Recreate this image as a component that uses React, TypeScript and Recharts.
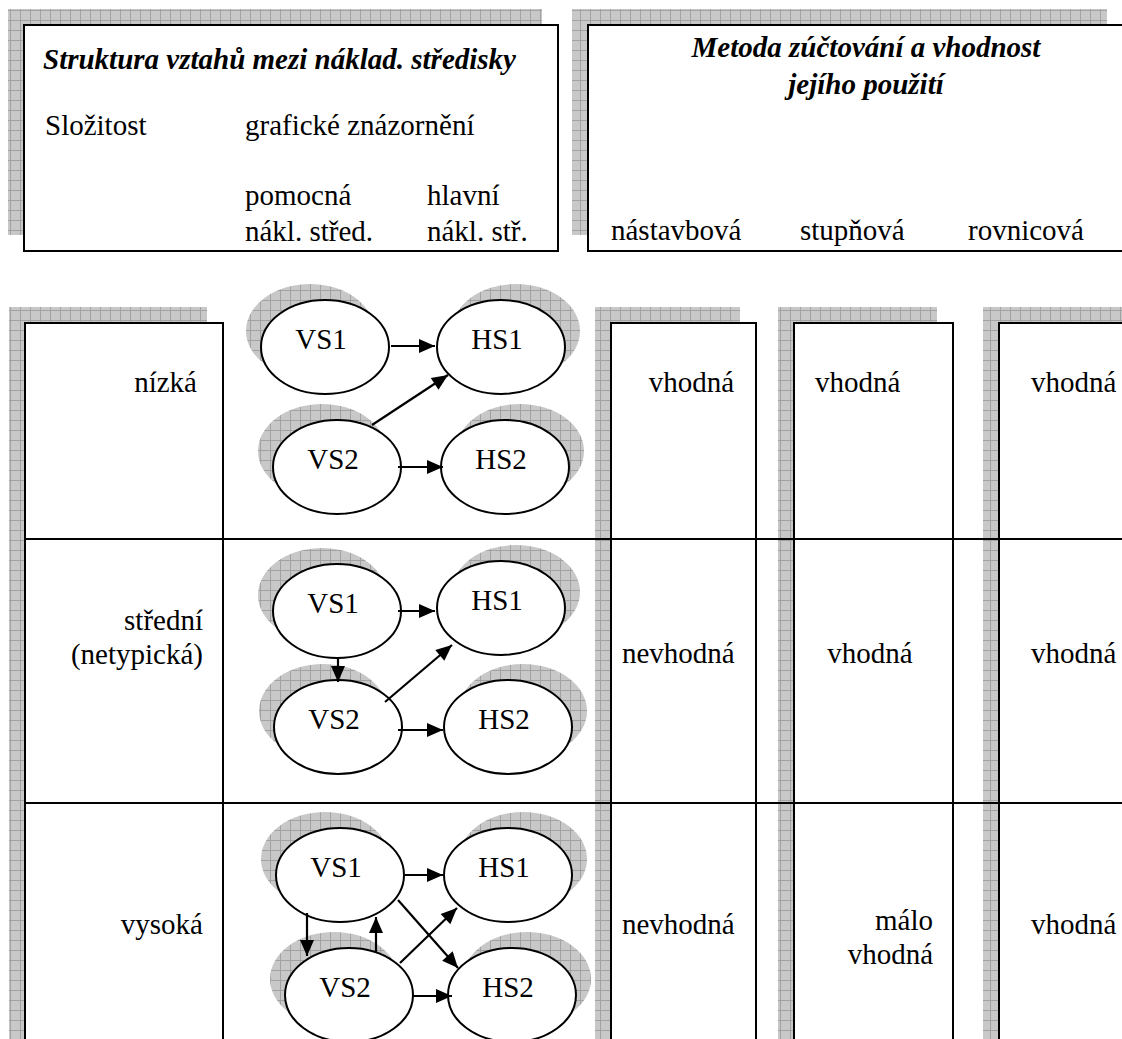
import React from "react"
import { ComposedChart, XAxis, YAxis, Scatter, ReferenceArea } from "recharts"

const W = 1122
const H = 1039
const FONT = '"Liberation Serif", "Times New Roman", serif'

// rámečky hlavičky (souřadnice diagramu)
const headerBoxes = [
  { id: "struktura", x1: 24, x2: 558, y1: 25, y2: 251 },
  { id: "metoda", x1: 588, x2: 1123, y1: 25, y2: 251 },
]

// sloupce tabulky – pokračují pod spodní okraj
const columnBoxes = [
  { id: "slozitost", x1: 25, x2: 223 },
  { id: "nastavbova", x1: 611, x2: 756 },
  { id: "stupnova", x1: 794, x2: 953 },
  { id: "rovnicova", x1: 999, x2: 1150 },
]
const tableTop = 323
const tableBottom = 1060
const tableLeft = 25
const tableRight = 1150
const rowDividers = [539, 803]

// nadpisy (tučná kurzíva)
const titles = [
  { text: "Struktura vztahů mezi náklad. středisky", x: 43, y: 69, anchor: "start" },
  { text: "Metoda zúčtování a vhodnost", x: 866, y: 57, anchor: "middle" },
  { text: "jejího použití", x: 866, y: 94, anchor: "middle" },
]

// popisky hlavičky
const headerLabels = [
  { text: "Složitost", x: 45, y: 135, anchor: "start" },
  { text: "grafické znázornění", x: 245, y: 135, anchor: "start" },
  { text: "pomocná", x: 245, y: 205, anchor: "start" },
  { text: "nákl. střed.", x: 245, y: 241, anchor: "start" },
  { text: "hlavní", x: 427, y: 205, anchor: "start" },
  { text: "nákl. stř.", x: 427, y: 241, anchor: "start" },
  { text: "nástavbová", x: 611, y: 240, anchor: "start" },
  { text: "stupňová", x: 800, y: 240, anchor: "start" },
  { text: "rovnicová", x: 968, y: 240, anchor: "start" },
]

// složitost (řádky)
const complexityLabels = [
  { text: "nízká", x: 197, y: 392, anchor: "end" },
  { text: "střední", x: 203, y: 630, anchor: "end" },
  { text: "(netypická)", x: 203, y: 664, anchor: "end" },
  { text: "vysoká", x: 203, y: 934, anchor: "end" },
]

// vhodnost metod
const suitabilityLabels = [
  { text: "vhodná", x: 734, y: 392, anchor: "end" },
  { text: "nevhodná", x: 622, y: 663, anchor: "start" },
  { text: "nevhodná", x: 622, y: 934, anchor: "start" },
  { text: "vhodná", x: 815, y: 392, anchor: "start" },
  { text: "vhodná", x: 870, y: 663, anchor: "middle" },
  { text: "málo", x: 933, y: 930, anchor: "end" },
  { text: "vhodná", x: 933, y: 964, anchor: "end" },
  { text: "vhodná", x: 1031, y: 392, anchor: "start" },
  { text: "vhodná", x: 1031, y: 663, anchor: "start" },
  { text: "vhodná", x: 1031, y: 934, anchor: "start" },
]

// střediska v grafech
const nodes = [
  { row: "nízká", label: "VS1", x: 325, y: 347 },
  { row: "nízká", label: "HS1", x: 501, y: 347 },
  { row: "nízká", label: "VS2", x: 337, y: 467 },
  { row: "nízká", label: "HS2", x: 505, y: 467 },
  { row: "střední", label: "VS1", x: 337, y: 611 },
  { row: "střední", label: "HS1", x: 501, y: 608 },
  { row: "střední", label: "VS2", x: 338, y: 727 },
  { row: "střední", label: "HS2", x: 508, y: 727 },
  { row: "vysoká", label: "VS1", x: 340, y: 875 },
  { row: "vysoká", label: "HS1", x: 508, y: 875 },
  { row: "vysoká", label: "VS2", x: 349, y: 995 },
  { row: "vysoká", label: "HS2", x: 512, y: 995 },
]

// vztahy (šipky)
const arrows = [
  { row: "nízká", x1: 391, y1: 346, x2: 435, y2: 346 },
  { row: "nízká", x1: 372, y1: 425, x2: 448, y2: 375 },
  { row: "nízká", x1: 398, y1: 467, x2: 443, y2: 467 },
  { row: "střední", x1: 398, y1: 611, x2: 435, y2: 611 },
  { row: "střední", x1: 338, y1: 658, x2: 338, y2: 682 },
  { row: "střední", x1: 385, y1: 702, x2: 452, y2: 645 },
  { row: "střední", x1: 398, y1: 730, x2: 443, y2: 730 },
  { row: "vysoká", x1: 405, y1: 875, x2: 443, y2: 875 },
  { row: "vysoká", x1: 307, y1: 913, x2: 307, y2: 956 },
  { row: "vysoká", x1: 376, y1: 953, x2: 376, y2: 917 },
  { row: "vysoká", x1: 398, y1: 900, x2: 458, y2: 968 },
  { row: "vysoká", x1: 400, y1: 963, x2: 457, y2: 908 },
  { row: "vysoká", x1: 413, y1: 996, x2: 452, y2: 996 },
]

const SHADOW = 16
const RX = 64
const RY = 47

const NodeShape = (props: any) => {
  const { cx, cy, payload } = props
  if (cx == null || cy == null) return <g />
  const dx = payload.label.startsWith("VS") ? -15 : 15
  return (
    <g>
      <ellipse cx={cx + dx} cy={cy - SHADOW} rx={RX} ry={RY} fill="url(#hatch)" />
      <ellipse cx={cx} cy={cy} rx={RX} ry={RY} fill="#fff" stroke="#000" strokeWidth={2} />
      <text x={cx - 4} y={cy + 2} textAnchor="middle" fontFamily={FONT} fontSize={29} fill="#000">
        {payload.label}
      </text>
    </g>
  )
}

const ArrowHead = (props: any) => {
  const { cx, cy, payload } = props
  if (!payload?.head || cx == null) return <g />
  const a = payload.angle
  const len = 16
  const half = 7
  const bx = cx - len * Math.cos(a)
  const by = cy - len * Math.sin(a)
  const px = -Math.sin(a) * half
  const py = Math.cos(a) * half
  return <polygon points={`${cx},${cy} ${bx + px},${by + py} ${bx - px},${by - py}`} fill="#000" />
}

const TextShape = (props: any) => {
  const { cx, cy, payload } = props
  if (cx == null) return <g />
  return (
    <text
      x={cx}
      y={cy}
      textAnchor={payload.anchor}
      fontFamily={FONT}
      fontSize={29}
      fontWeight={payload.bold ? "bold" : "normal"}
      fontStyle={payload.bold ? "italic" : "normal"}
      fill="#000"
    >
      {payload.text}
    </text>
  )
}

// stín: horní a levý pruh posunutého rámečku
const shadowStrips = (b: { x1: number; x2: number; y1: number; y2: number }) => [
  { x1: b.x1 - SHADOW, x2: b.x2 - SHADOW, y1: b.y1 - SHADOW, y2: b.y1 },
  { x1: b.x1 - SHADOW, x2: b.x1, y1: b.y1, y2: b.y2 - SHADOW },
]

export default function App() {
  const allBoxes = [
    ...headerBoxes,
    ...columnBoxes.map((c) => ({ ...c, y1: tableTop, y2: tableBottom })),
  ]
  const shadows = allBoxes.flatMap(shadowStrips)
  const textData = [
    ...titles.map((t) => ({ ...t, bold: true })),
    ...headerLabels,
    ...complexityLabels,
    ...suitabilityLabels,
  ]

  return (
    <div style={{ position: "absolute", left: 0, top: 0, width: W, height: H, background: "#fff" }}>
      <svg width={0} height={0} style={{ position: "absolute" }}>
        <defs>
          <pattern id="hatch" width={10} height={10} patternUnits="userSpaceOnUse">
            <rect width={10} height={10} fill="#c8c8c8" />
            <path d="M0 0.5H10M0.5 0V10" stroke="#a2a2a2" strokeWidth={1} />
          </pattern>
        </defs>
      </svg>
      <ComposedChart width={W} height={H} margin={{ top: 0, right: 0, bottom: 0, left: 0 }}>
        <XAxis type="number" dataKey="x" domain={[0, W]} allowDataOverflow hide />
        <YAxis type="number" dataKey="y" domain={[0, H]} allowDataOverflow reversed hide />

        {shadows.map((s, i) => (
          <ReferenceArea
            key={`sh-${i}`}
            x1={s.x1}
            x2={s.x2}
            y1={s.y1}
            y2={s.y2}
            fill="url(#hatch)"
            fillOpacity={1}
            stroke="none"
            ifOverflow="visible"
          />
        ))}
        {allBoxes.map((b, i) => (
          <ReferenceArea
            key={`box-${i}`}
            x1={b.x1}
            x2={b.x2}
            y1={b.y1}
            y2={b.y2}
            fill="none"
            stroke="#000"
            strokeWidth={2}
            ifOverflow="visible"
          />
        ))}
        {rowDividers.map((y, i) => (
          <ReferenceArea
            key={`row-${i}`}
            x1={tableLeft}
            x2={tableRight}
            y1={y - 1}
            y2={y + 1}
            fill="#000"
            fillOpacity={1}
            stroke="none"
            ifOverflow="visible"
          />
        ))}

        <Scatter data={nodes} shape={NodeShape} isAnimationActive={false} />
        {arrows.map((a, i) => (
          <Scatter
            key={`ar-${i}`}
            data={[
              { x: a.x1, y: a.y1, head: false },
              { x: a.x2, y: a.y2, head: true, angle: Math.atan2(a.y2 - a.y1, a.x2 - a.x1) },
            ]}
            line={{ stroke: "#000", strokeWidth: 2.2 }}
            shape={ArrowHead}
            isAnimationActive={false}
          />
        ))}
        <Scatter data={textData} shape={TextShape} isAnimationActive={false} />
      </ComposedChart>
    </div>
  )
}
